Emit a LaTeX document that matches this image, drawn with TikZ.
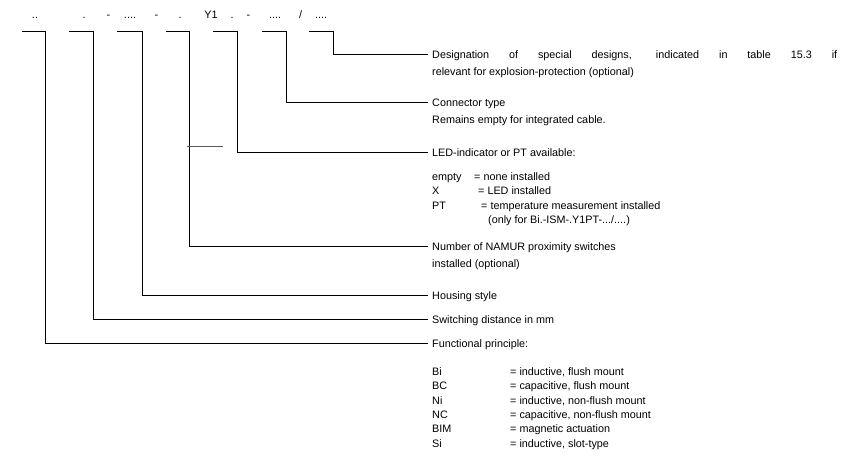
\documentclass[tikz,border=0pt]{standalone}
\usepackage{fontspec}
\setmainfont{Liberation Sans}
\begin{document}
\begin{tikzpicture}[x=1pt,y=-1pt,
  conn/.style={line width=1pt, line join=miter},
  lbl/.style={anchor=west, inner sep=0pt, text height=9pt, text depth=2pt, font=\fontsize{10.8}{13}\selectfont},
  code/.style={anchor=base, inner sep=0pt, font=\fontsize{10.8}{13}\selectfont}]
\path[use as bounding box] (0,0) rectangle (849,462);

% code row
\node[code] (c1) at (35,19) {..};
\node[code] (c2) at (84,19) {.};
\node[code] (c3) at (108.5,19) {-};
\node[code] (c4) at (130,19) {....};
\node[code] (c5) at (156.5,19) {-};
\node[code] (c6) at (180,19) {.};
\node[code] (c7) at (211,19) {Y1};
\node[code] (c8) at (232,19) {.};
\node[code] (c9) at (248.5,19) {-};
\node[code] (c10) at (275,19) {....};
\node[code] (c11) at (300.5,19) {/};
\node[code] (c12) at (321,19) {....};

% connector starts
\coordinate (s1) at (22,32);
\coordinate (s2) at (69,32);
\coordinate (s3) at (117,32);
\coordinate (s4) at (166,32);
\coordinate (s5) at (213,32);
\coordinate (s6) at (262,32);
\coordinate (s7) at (309,32);

% labels
\node[lbl] (d7) at (432,55) {\makebox[405pt][s]{Designation of special designs, indicated in table 15.3 if}};
\node[lbl] (d7b) at (432,72) {relevant for explosion-protection (optional)};
\node[lbl] (d6) at (432,103) {Connector type};
\node[lbl] (d6b) at (432,120) {Remains empty for integrated cable.};
\node[lbl] (d5) at (432,153) {LED-indicator or PT available:};
\node[lbl] (e1a) at (432,177) {empty};
\node[lbl] (e1b) at (474,177) {= none installed};
\node[lbl] (e2a) at (432,191.5) {X};
\node[lbl] (e2b) at (478,191.5) {= LED installed};
\node[lbl] (e3a) at (432,206) {PT};
\node[lbl] (e3b) at (481,206) {= temperature measurement installed};
\node[lbl] (e4) at (488,220.5) {(only for Bi.-ISM-.Y1PT-.../....)};
\node[lbl] (d4) at (432,247) {Number of NAMUR proximity switches};
\node[lbl] (d4b) at (432,264) {installed (optional)};
\node[lbl] (d3) at (432,296) {Housing style};
\node[lbl] (d2) at (432,320) {Switching distance in mm};
\node[lbl] (d1) at (432,344) {Functional principle:};
\node[lbl] (f1a) at (432,372) {Bi};
\node[lbl] (f1b) at (510,372) {= inductive, flush mount};
\node[lbl] (f2a) at (432,386.3) {BC};
\node[lbl] (f2b) at (510,386.3) {= capacitive, flush mount};
\node[lbl] (f3a) at (432,400.6) {Ni};
\node[lbl] (f3b) at (510,400.6) {= inductive, non-flush mount};
\node[lbl] (f4a) at (432,414.9) {NC};
\node[lbl] (f4b) at (510,414.9) {= capacitive, non-flush mount};
\node[lbl] (f5a) at (432,429.2) {BIM};
\node[lbl] (f5b) at (510,429.2) {= magnetic actuation};
\node[lbl] (f6a) at (432,443.5) {Si};
\node[lbl] (f6b) at (510,443.5) {= inductive, slot-type};

% connectors
\draw[conn] (s1) -- ++(23,0) |- ([xshift=-4pt]d1.west);
\draw[conn] (s2) -- ++(24,0) |- ([xshift=-4pt]d2.west);
\draw[conn] (s3) -- ++(25,0) |- ([xshift=-4pt]d3.west);
\draw[conn] (s4) -- ++(23,0) |- ([xshift=-4pt]d4.west);
\draw[conn] (s5) -- ++(24,0) |- ([xshift=-4pt]d5.west);
\draw[conn] (s6) -- ++(24,0) |- ([xshift=-4pt]d6.west);
\draw[conn] (s7) -- ++(24,0) |- ([xshift=-4pt]d7.west);

% stray mark
\draw[gray!70!black, line width=0.6pt] (187,146) -- (223,146);
\end{tikzpicture}
\end{document}
